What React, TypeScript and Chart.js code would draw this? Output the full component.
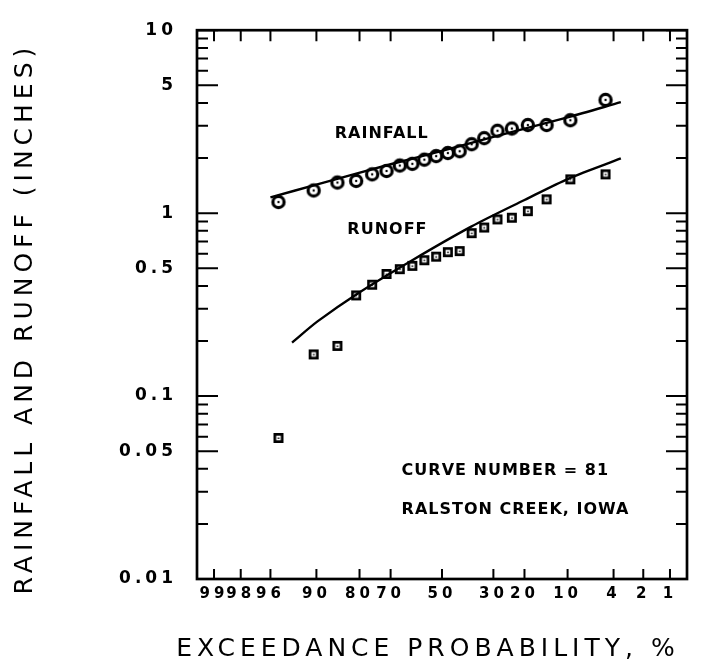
import React, { useEffect, useRef } from 'react';
import { Chart, registerables } from 'chart.js';

Chart.register(...registerables);

// ---- data ----
const exceedanceProb = [95.24, 90.48, 85.71, 80.95, 76.19, 71.43, 66.67, 61.9, 57.14, 52.38, 47.62, 42.86, 38.1, 33.33, 28.57, 23.81, 19.05, 14.29, 9.52, 4.76];
const rainfall = [1.15, 1.33, 1.47, 1.5, 1.63, 1.7, 1.82, 1.86, 1.96, 2.05, 2.13, 2.18, 2.38, 2.57, 2.82, 2.9, 3.03, 3.03, 3.22, 4.16];
const runoff = [0.059, 0.169, 0.188, 0.355, 0.406, 0.465, 0.494, 0.515, 0.553, 0.578, 0.612, 0.62, 0.777, 0.834, 0.924, 0.944, 1.025, 1.19, 1.53, 1.63];

const rainfallFitProb = [96, 90, 70, 50, 30, 10, 3.4];
const rainfallFit = [1.22, 1.43, 1.85, 2.19, 2.61, 3.34, 4.04];
const runoffFitProb = [93.7, 89.8, 80.6, 62.4, 38.3, 20, 9.7, 3.4];
const runoffFit = [0.196, 0.256, 0.363, 0.548, 0.844, 1.18, 1.55, 1.99];

const xTickProbs = [99, 98, 96, 90, 80, 70, 50, 30, 20, 10, 4, 2, 1];
const xTickLabels = ['99', '98', '96', '90', '80', '70', '50', '30', '20', '10', '4', '2', '1'];

const yTickValues = [10, 9, 8, 7, 6, 5, 4, 3, 2, 1, 0.9, 0.8, 0.7, 0.6, 0.5, 0.4, 0.3, 0.2, 0.1, 0.09, 0.08, 0.07, 0.06, 0.05, 0.04, 0.03, 0.02, 0.01];
const yLabelValues = [10, 5, 1, 0.5, 0.1, 0.05, 0.01];
const yLabelTexts = ['10', '5', '1', '0.5', '0.1', '0.05', '0.01'];

const yTitle = 'RAINFALL AND RUNOFF (INCHES)';
const xTitle = 'EXCEEDANCE PROBABILITY, %';

// inverse standard normal (Acklam) – probability-paper transform
function normInv(q: number): number {
  const a = [-3.969683028665376e1, 2.209460984245205e2, -2.759285104469687e2, 1.38357751867269e2, -3.066479806614716e1, 2.506628277459239];
  const b = [-5.447609879822406e1, 1.615858368580409e2, -1.556989798598866e2, 6.680131188771972e1, -1.328068155288572e1];
  const c = [-7.784894002430293e-3, -3.223964580411365e-1, -2.400758277161838, -2.549732539343734, 4.374664141464968, 2.938163982698783];
  const d = [7.784695709041462e-3, 3.224671290700398e-1, 2.445134137142996, 3.754408661907416];
  const plow = 0.02425;
  const phigh = 1 - plow;
  if (q < plow) {
    const r = Math.sqrt(-2 * Math.log(q));
    return (((((c[0] * r + c[1]) * r + c[2]) * r + c[3]) * r + c[4]) * r + c[5]) / ((((d[0] * r + d[1]) * r + d[2]) * r + d[3]) * r + 1);
  }
  if (q <= phigh) {
    const r = q - 0.5;
    const s = r * r;
    return ((((((a[0] * s + a[1]) * s + a[2]) * s + a[3]) * s + a[4]) * s + a[5]) * r) / (((((b[0] * s + b[1]) * s + b[2]) * s + b[3]) * s + b[4]) * s + 1);
  }
  const r = Math.sqrt(-2 * Math.log(1 - q));
  return -(((((c[0] * r + c[1]) * r + c[2]) * r + c[3]) * r + c[4]) * r + c[5]) / ((((d[0] * r + d[1]) * r + d[2]) * r + d[3]) * r + 1);
}
const zOf = (p: number) => normInv(1 - p / 100);

function makeCircleMarker() {
  const cv = document.createElement('canvas');
  cv.width = 18;
  cv.height = 18;
  const c = cv.getContext('2d')!;
  c.beginPath();
  c.arc(9, 9, 5.6, 0, Math.PI * 2);
  c.fillStyle = '#fff';
  c.fill();
  c.lineWidth = 3.2;
  c.strokeStyle = '#000';
  c.stroke();
  c.beginPath();
  c.arc(9, 9, 1.2, 0, Math.PI * 2);
  c.fillStyle = '#000';
  c.fill();
  return cv;
}

function makeSquareMarker() {
  const cv = document.createElement('canvas');
  cv.width = 12;
  cv.height = 12;
  const c = cv.getContext('2d')!;
  c.fillStyle = '#000';
  c.fillRect(1, 1, 10, 10);
  c.fillStyle = '#fff';
  c.fillRect(3.7, 3.7, 4.6, 4.6);
  c.fillStyle = '#000';
  c.fillRect(5.3, 5.5, 1.5, 1.5);
  return cv;
}

const decorPlugin = {
  id: 'decor',
  beforeDraw(chart: any) {
    chart.ctx.letterSpacing = '4px';
  },
  beforeDatasetsDraw(chart: any) {
    chart.ctx.letterSpacing = '0px';
  },
  afterDraw(chart: any) {
    const { ctx, chartArea: a, scales } = chart;
    const xs = scales.x;
    const ys = scales.y;
    ctx.save();
    ctx.letterSpacing = '0px';
    ctx.strokeStyle = '#000';
    ctx.lineWidth = 2;
    ctx.beginPath();
    xTickProbs.forEach((p) => {
      const x = xs.getPixelForValue(zOf(p));
      ctx.moveTo(x, a.bottom);
      ctx.lineTo(x, a.bottom - 10);
      ctx.moveTo(x, a.top);
      ctx.lineTo(x, a.top + 11);
    });
    yTickValues.forEach((v) => {
      const y = ys.getPixelForValue(v);
      const len = yLabelValues.includes(v) ? 21 : 11;
      ctx.moveTo(a.left, y);
      ctx.lineTo(a.left + len, y);
      ctx.moveTo(a.right, y);
      ctx.lineTo(a.right - len, y);
    });
    ctx.stroke();
    ctx.lineWidth = 2.7;
    ctx.strokeRect(a.left, a.top, a.right - a.left, a.bottom - a.top);

    // in-plot labels
    const notes = [
      { t: 'RAINFALL', p: 86.3, v: 2.71 },
      { t: 'RUNOFF', p: 83.3, v: 0.811 },
      { t: 'CURVE NUMBER = 81', p: 66.0, v: 0.0392 },
      { t: 'RALSTON CREEK, IOWA', p: 66.0, v: 0.0239 },
    ];
    ctx.fillStyle = '#000';
    ctx.font = 'bold 16px "DejaVu Sans", sans-serif';
    ctx.letterSpacing = '1px';
    ctx.textAlign = 'left';
    ctx.textBaseline = 'middle';
    notes.forEach((n) => {
      ctx.fillText(n.t, xs.getPixelForValue(zOf(n.p)), ys.getPixelForValue(n.v));
    });

    // axis titles
    ctx.font = '25px "DejaVu Sans", sans-serif';
    ctx.letterSpacing = '5px';
    ctx.textAlign = 'center';
    ctx.textBaseline = 'middle';
    ctx.fillText(xTitle, (a.left + a.right) / 2 - 14, a.bottom + 70);
    ctx.save();
    ctx.translate(25, (a.top + a.bottom) / 2 + 14);
    ctx.rotate(-Math.PI / 2);
    ctx.fillText(yTitle, 0, 0);
    ctx.restore();
    ctx.restore();
  },
};

export default function App() {
  const ref = useRef<HTMLCanvasElement | null>(null);
  useEffect(() => {
    if (!ref.current) return;
    const circle = makeCircleMarker();
    const square = makeSquareMarker();
    const pts = (ps: number[], vs: number[]) => ps.map((p, i) => ({ x: zOf(p), y: vs[i] }));
    const chart = new Chart(ref.current, {
      type: 'scatter',
      data: {
        datasets: [
          {
            label: 'Rainfall fit',
            data: pts(rainfallFitProb, rainfallFit),
            showLine: true,
            borderColor: '#000',
            borderWidth: 2.4,
            pointRadius: 0,
            tension: 0.3,
          },
          {
            label: 'Runoff fit',
            data: pts(runoffFitProb, runoffFit),
            showLine: true,
            borderColor: '#000',
            borderWidth: 2.4,
            pointRadius: 0,
            tension: 0.3,
          },
          {
            label: 'Rainfall',
            data: pts(exceedanceProb, rainfall),
            showLine: false,
            pointStyle: circle as any,
            pointRadius: 7,
          },
          {
            label: 'Runoff',
            data: pts(exceedanceProb, runoff),
            showLine: false,
            pointStyle: square as any,
            pointRadius: 6,
          },
        ],
      },
      options: {
        animation: false,
        responsive: false,
        devicePixelRatio: 1,
        layout: { padding: { top: 19, right: 15, left: 0, bottom: 0 } },
        plugins: { legend: { display: false }, tooltip: { enabled: false } },
        scales: {
          x: {
            type: 'linear',
            min: -2.5,
            max: 2.5,
            grid: { display: false, drawTicks: false },
            border: { display: false },
            afterBuildTicks: (s: any) => {
              s.ticks = xTickProbs.map((p) => ({ value: zOf(p) }));
            },
            afterFit: (s: any) => {
              s.height = 87;
            },
            ticks: {
              autoSkip: false,
              maxRotation: 0,
              padding: 6,
              color: '#000',
              font: { family: 'DejaVu Sans', size: 15, weight: 'bold' },
              callback: (_v: any, i: number) => xTickLabels[i],
            },
          },
          y: {
            type: 'logarithmic',
            min: 0.01,
            max: 10,
            grid: { display: false, drawTicks: false },
            border: { display: false },
            afterBuildTicks: (s: any) => {
              s.ticks = yTickValues.map((v) => ({ value: v }));
            },
            afterFit: (s: any) => {
              s.width = 197;
            },
            ticks: {
              autoSkip: false,
              padding: 20,
              color: '#000',
              font: { family: 'DejaVu Sans', size: 17, weight: 'bold' },
              callback: (v: any) => {
                const k = yLabelValues.indexOf(Number(v));
                return k >= 0 ? yLabelTexts[k] : '';
              },
            },
          },
        },
      },
      plugins: [decorPlugin],
    } as any);
    return () => chart.destroy();
  }, []);
  return (
    <div style={{ position: 'absolute', left: 0, top: 0, width: 702, height: 666, background: '#fff' }}>
      <canvas ref={ref} width={702} height={666} style={{ width: 702, height: 666, display: 'block' }} />
    </div>
  );
}
